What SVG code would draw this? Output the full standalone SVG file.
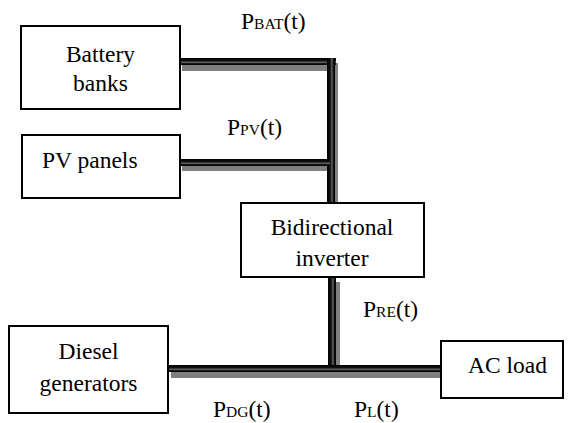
<svg xmlns="http://www.w3.org/2000/svg" width="570" height="423" viewBox="0 0 570 423">
<defs>
<linearGradient id="gh" x1="0" y1="0" x2="0" y2="1">
<stop offset="0" stop-color="#000"/><stop offset="0.4" stop-color="#111"/><stop offset="0.62" stop-color="#666"/><stop offset="0.8" stop-color="#111"/><stop offset="1" stop-color="#000"/>
</linearGradient>
<linearGradient id="gv" x1="0" y1="0" x2="1" y2="0">
<stop offset="0" stop-color="#000"/><stop offset="0.4" stop-color="#111"/><stop offset="0.62" stop-color="#666"/><stop offset="0.8" stop-color="#111"/><stop offset="1" stop-color="#000"/>
</linearGradient>
</defs>
<style>
.box{fill:#fff;stroke:#000;stroke-width:2}
.t{font-family:'Liberation Serif','Times New Roman',serif;font-size:23.5px;fill:#000}
.s{font-size:15.5px}
.sh{fill:#808080}
.h{fill:url(#gh)}
.v{fill:url(#gv)}
</style>
<g id="connectors">
<rect class="sh" x="182" y="64" width="156" height="7"/>
<rect class="sh" x="334" y="63" width="4" height="140"/>
<rect class="sh" x="182" y="165" width="148" height="6"/>
<rect class="sh" x="336" y="282" width="4" height="84"/>
<rect class="sh" x="171" y="372" width="270" height="6"/>
<rect class="h" x="180" y="58" width="156" height="7"/>
<rect class="v" x="327" y="58" width="8" height="145"/>
<rect class="h" x="180" y="159" width="150" height="7"/>
<rect class="v" x="328" y="277" width="8" height="89"/>
<rect class="h" x="168" y="365" width="273" height="7"/>
</g>
<g id="battery">
<rect class="box" x="21" y="26" width="159" height="83"/>
<text class="t" x="100.5" y="62" text-anchor="middle">Battery</text>
<text class="t" x="100.5" y="91" text-anchor="middle">banks</text>
</g>
<g id="pv">
<rect class="box" x="22" y="135" width="158" height="63"/>
<text class="t" x="42" y="168">PV panels</text>
</g>
<g id="inverter">
<rect class="box" x="241" y="203" width="183" height="74"/>
<text class="t" x="332" y="235" text-anchor="middle">Bidirectional</text>
<text class="t" x="332" y="266" text-anchor="middle">inverter</text>
</g>
<g id="diesel">
<rect class="box" x="9" y="326" width="159" height="87"/>
<text class="t" x="88.5" y="359" text-anchor="middle">Diesel</text>
<text class="t" x="88.5" y="391" text-anchor="middle">generators</text>
</g>
<g id="acload">
<rect class="box" x="441" y="341" width="122" height="57"/>
<text class="t" x="507.5" y="373" text-anchor="middle">AC load</text>
</g>
<g id="labels">
<text class="t" x="241" y="29">P<tspan class="s">BAT</tspan>(t)</text>
<text class="t" x="227" y="135">P<tspan class="s">PV</tspan>(t)</text>
<text class="t" x="363" y="317">P<tspan class="s">RE</tspan>(t)</text>
<text class="t" x="213" y="417">P<tspan class="s">DG</tspan>(t)</text>
<text class="t" x="354" y="417">P<tspan class="s">L</tspan>(t)</text>
</g>
</svg>
